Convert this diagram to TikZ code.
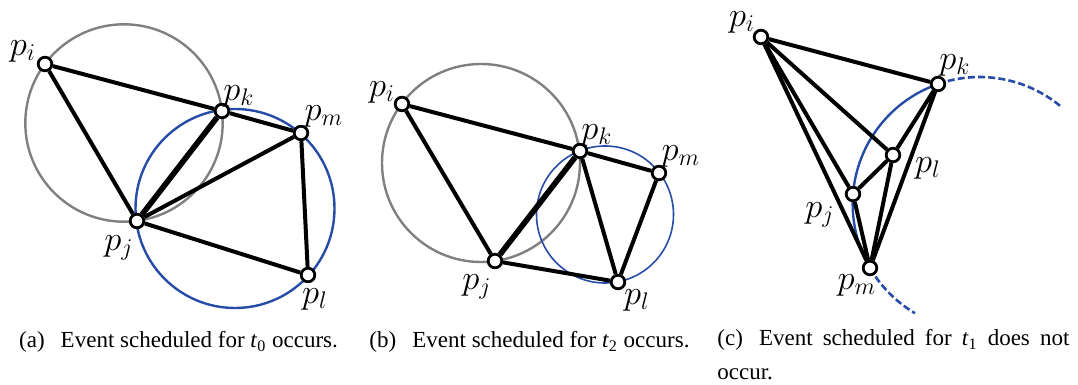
\documentclass[tikz,border=0pt]{standalone}
\usepackage{fontspec}
\setmainfont{Liberation Serif}
\definecolor{delblue}{RGB}{38,76,168}
\definecolor{delgray}{RGB}{128,128,128}

\begin{document}
\begin{tikzpicture}[
    x=0.5pt, y=-0.5pt,
    vtx/.style={circle, draw, fill=white, line width=1.4pt, minimum size=6.8pt, inner sep=0pt},
    edge/.style={line width=2pt},
    flip/.style={line width=2.8pt},
    lab/.style={font=\fontsize{16.5}{18}\selectfont, inner sep=0pt},
    oldcirc/.style={draw=delgray, line width=1.2pt},
    newcirc/.style={draw=delblue, line width=1.2pt},
    ghost/.style={draw=delblue, line width=1.3pt, dash pattern=on 3.5pt off 1.6pt},
    captext/.style={font=\fontsize{11.5}{17}\selectfont, inner sep=0pt}
]
\useasboundingbox (0,0) rectangle (1078,385);

% (a)
\draw[oldcirc] (124,123) circle[radius=98.7];
\draw[newcirc] (235,208.5) circle[radius=99.5];
\node[vtx] (ai) at (45,64) {};
\node[vtx] (aj) at (137,221) {};
\node[vtx] (ak) at (222,111) {};
\node[vtx] (al) at (308,275) {};
\node[vtx] (am) at (301,133) {};
\draw[edge] (ai) -- (ak);
\draw[edge] (ai) -- (aj);
\draw[flip] (aj) -- (ak);
\draw[edge] (ak) -- (am);
\draw[edge] (aj) -- (am);
\draw[edge] (am) -- (al);
\draw[edge] (aj) -- (al);
\node[lab] (ailab) at (23,51) {$p_i$};
\node[lab] (ajlab) at (119,248) {$p_j$};
\node[lab] (aklab) at (239,96) {$p_k$};
\node[lab] (allab) at (315,299) {$p_l$};
\node[lab] (amlab) at (324,116) {$p_m$};

% (b)
\draw[oldcirc] (481,163) circle[radius=99];
\draw[newcirc, line width=0.8pt] (605,214.5) circle[radius=68.5];
\node[vtx] (bi) at (402,104) {};
\node[vtx] (bj) at (495,261) {};
\node[vtx] (bk) at (580,151) {};
\node[vtx] (bl) at (618,282) {};
\node[vtx] (bm) at (659,173) {};
\draw[edge] (bi) -- (bk);
\draw[edge] (bi) -- (bj);
\draw[flip] (bj) -- (bk);
\draw[edge] (bk) -- (bm);
\draw[edge] (bk) -- (bl);
\draw[edge] (bm) -- (bl);
\draw[edge] (bj) -- (bl);
\node[lab] (bilab) at (382,92) {$p_i$};
\node[lab] (bjlab) at (477,287) {$p_j$};
\node[lab] (bklab) at (597,135) {$p_k$};
\node[lab] (bllab) at (637,300) {$p_l$};
\node[lab] (bmlab) at (681,156) {$p_m$};

% (c)
\coordinate (ckpos) at (938,84);
\coordinate (cmpos) at (870,268);
\draw[newcirc] (cmpos) arc[start angle=149.7, end angle=250.9, radius=126.9];
\draw[ghost] (ckpos) arc[start angle=250.9, end angle=310, radius=126.9];
\draw[ghost] (cmpos) arc[start angle=149.7, end angle=120.6, radius=126.9];
\node[vtx] (ci) at (761,37) {};
\node[vtx] (cj) at (853,194) {};
\node[vtx] (ck) at (ckpos) {};
\node[vtx] (cl) at (893,155) {};
\node[vtx] (cm) at (cmpos) {};
\draw[edge] (ci) -- (ck);
\draw[edge] (ci) -- (cl);
\draw[edge] (ci) -- (cj);
\draw[edge] (ci) -- (cm);
\draw[edge] (cj) -- (cl);
\draw[edge] (cj) -- (cm);
\draw[edge] (cl) -- (cm);
\draw[edge] (ck) -- (cl);
\draw[edge] (ck) -- (cm);
\node[lab] (cilab) at (742,22) {$p_i$};
\node[lab] (cjlab) at (820,215) {$p_j$};
\node[lab] (cklab) at (955,65) {$p_k$};
\node[lab] (cllab) at (928,168) {$p_l$};
\node[lab] (cmlab) at (857,285) {$p_m$};

% captions
\node[captext, anchor=base] (capa) at (178.5,348) {(a)\hspace{0.7em}Event scheduled for \textit{t}\textsubscript{0} occurs.};
\node[captext, anchor=base] (capb) at (529.5,348) {(b)\hspace{0.7em}Event scheduled for \textit{t}\textsubscript{2} occurs.};
\node[captext, anchor=north west, text width=176pt, align=justify] (capc) at (717,329)
    {(c)\hspace{0.7em}Event scheduled for \textit{t}\textsubscript{1} does not occur.};
\end{tikzpicture}
\end{document}
